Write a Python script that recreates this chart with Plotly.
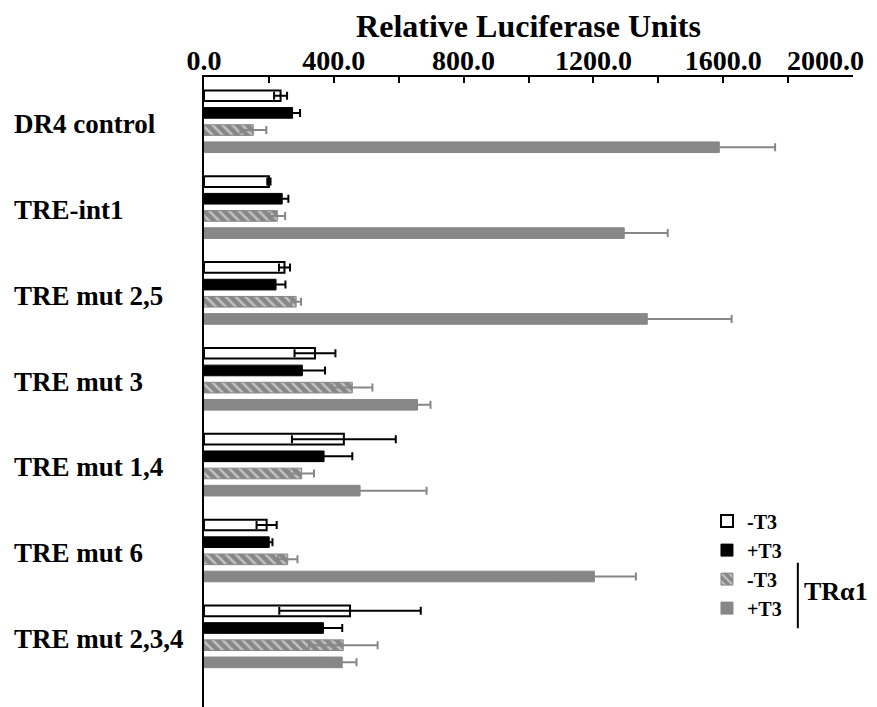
import plotly.graph_objects as go

# ---- data ----
categories = ["DR4 control", "TRE-int1", "TRE mut 2,5", "TRE mut 3",
              "TRE mut 1,4", "TRE mut 6", "TRE mut 2,3,4"]
minus_t3 = [236, 200, 248, 342, 431, 193, 450]
minus_t3_err = [20, 5, 17, 63, 160, 31, 218]
plus_t3 = [273, 241, 222, 303, 370, 201, 368]
plus_t3_err = [23, 19, 29, 70, 87, 10, 58]
tra1_minus_t3 = [152, 226, 284, 457, 301, 258, 429]
tra1_minus_t3_err = [40, 24, 15, 62, 38, 30, 106]
tra1_plus_t3 = [1588, 1295, 1366, 658, 481, 1203, 426]
tra1_plus_t3_err = [172, 134, 260, 40, 205, 128, 44]
series_names = ["-T3", "+T3", "-T3", "+T3"]
x_tick_values = [0, 400, 800, 1200, 1600, 2000]
x_tick_text = ["0.0", "400.0", "800.0", "1200.0", "1600.0", ""]
last_tick_text = "2000.0"
x_title = "Relative Luciferase Units"
bracket_label = "TRα1"

FONT = "Liberation Serif, Times New Roman, serif"
GRAY = "#878787"
SLOTS = 5  # 4 bars + 1 gap per construct

def positions(k):
    return [gi * SLOTS + k for gi in range(len(categories))]

fig = go.Figure()
series = [
    (minus_t3, minus_t3_err, dict(color="white", line=dict(color="black", width=2)), "black"),
    (plus_t3, plus_t3_err, dict(color="black", line=dict(color="black", width=1)), "black"),
    (tra1_minus_t3, tra1_minus_t3_err,
     dict(color=GRAY, line=dict(color=GRAY, width=1),
          pattern=dict(shape="\\", fgcolor="white", bgcolor=GRAY, size=7, solidity=0.35)), GRAY),
    (tra1_plus_t3, tra1_plus_t3_err, dict(color=GRAY, line=dict(color=GRAY, width=1)), GRAY),
]
for k, (vals, errs, marker, ecol) in enumerate(series):
    fig.add_trace(go.Bar(
        x=vals, y=positions(k), orientation="h", name=series_names[k],
        marker=marker, width=0.62,
        error_x=dict(type="data", array=errs, color=ecol, thickness=2, width=4),
    ))

bold = lambda s: dict(family=FONT, size=s, color="black", weight="bold")

annotations = []
for gi, cat in enumerate(categories):
    annotations.append(dict(
        text=cat, xref="paper", yref="y", x=-0.296, y=gi * SLOTS + 1.65,
        xanchor="left", yanchor="middle", showarrow=False, font=bold(27)))
annotations.append(dict(
    text=bracket_label, xref="paper", yref="paper", x=0.921, y=0.184,
    xanchor="left", yanchor="middle", showarrow=False, font=bold(26)))
annotations.append(dict(
    text=last_tick_text, xref="paper", yref="paper", x=1.02, y=1,
    xanchor="right", yanchor="middle", yshift=17, showarrow=False, font=bold(28)))

fig.update_layout(
    width=869, height=699,
    margin=dict(l=196, r=24, t=69, b=0),
    paper_bgcolor="white", plot_bgcolor="white",
    barmode="overlay",
    font=dict(family=FONT, color="black"),
    showlegend=True,
    legend=dict(x=0.775, y=0.326, xanchor="left", yanchor="top",
                bgcolor="rgba(0,0,0,0)", tracegroupgap=0, font=bold(20)),
    xaxis=dict(
        side="top", range=[0, 2000], tickvals=x_tick_values, ticktext=x_tick_text,
        ticks="inside", ticklen=6, tickwidth=2, tickcolor="black",
        ticklabelstandoff=-6,
        minor=dict(dtick=200, tick0=0, ticks="inside", ticklen=6, tickwidth=2, tickcolor="black"),
        showline=True, linewidth=2, linecolor="black", showgrid=False, zeroline=False,
        tickfont=bold(28),
        title=dict(text=x_title, standoff=4, font=bold(32)),
    ),
    yaxis=dict(
        range=[35.6, -1.09], showticklabels=False, ticks="", showgrid=False,
        zeroline=False, showline=True, linewidth=2, linecolor="black",
    ),
    annotations=annotations,
    shapes=[dict(type="line", xref="paper", yref="paper",
                 x0=0.915, x1=0.915, y0=0.229, y1=0.125,
                 line=dict(color="black", width=2))],
)

fig.write_html("out.html")
